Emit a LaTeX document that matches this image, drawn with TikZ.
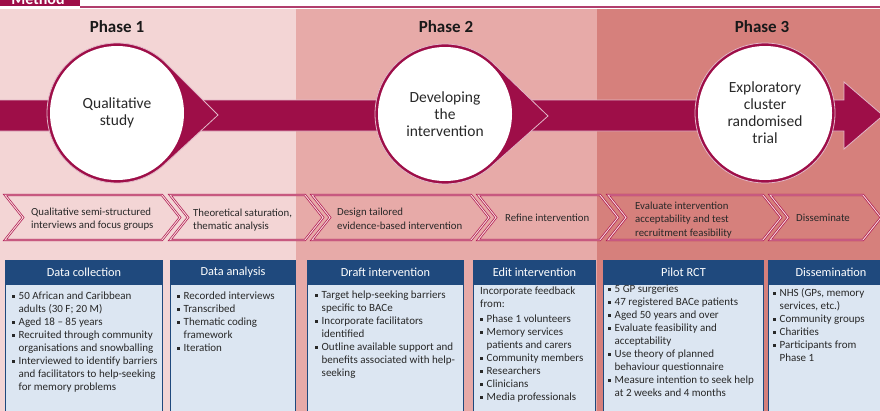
\documentclass[tikz,border=0pt]{standalone}
\usepackage{fontspec}
\setmainfont{Carlito}
\usetikzlibrary{calc}
\definecolor{mag}{RGB}{158,14,72}
\definecolor{chevc}{RGB}{176,22,82}
\definecolor{ph1}{RGB}{243,213,213}
\definecolor{ph2}{RGB}{231,170,168}
\definecolor{ph3}{RGB}{214,128,124}
\definecolor{hdr}{RGB}{31,73,125}
\definecolor{bodyc}{RGB}{220,230,242}
\definecolor{txtc}{RGB}{40,40,40}
\newcommand{\bl}{\makebox[6.5pt][l]{\rule[0.35ex]{2.8pt}{2.8pt}}}
\newcommand{\ct}{\hspace*{6.5pt}}
\newcommand{\chevshape}[2]{\draw[chev] (#1,195) -- (#2,195) -- ++(18,22.5) -- (#2,240) -- (#1,240) -- ++(18,-22.5) -- cycle;}
\tikzstyle{phase}=[font=\fontsize{17}{20}\selectfont\bfseries, text=black!90]
\tikzstyle{stage}=[circle, fill=white, minimum size=134pt, inner sep=0pt, align=center, text=txtc, font=\fontsize{15.5}{17}\selectfont]
\tikzstyle{tear}=[fill=mag, draw=white!70!mag, line width=0.8pt]
\tikzstyle{chev}=[draw=chevc, line width=0.7pt, double=ph1, double distance=0.9pt, line join=miter]
\tikzstyle{chevtxt}=[anchor=west, align=left, inner sep=0pt, text=txtc, font=\fontsize{10.8}{13.5}\selectfont]
\tikzstyle{boxhead}=[anchor=north west, fill=hdr, draw=hdr, line width=1pt, text=white, minimum height=23pt, inner sep=0pt, font=\fontsize{12.3}{14}\selectfont]
\tikzstyle{boxbody}=[anchor=north west, fill=bodyc, draw=hdr, line width=1.2pt, minimum height=140pt, inner sep=0pt]
\tikzstyle{boxtxt}=[anchor=north west, align=left, inner sep=0pt, text=txtc, font=\fontsize{11}{13}\selectfont]

\begin{document}
\begin{tikzpicture}[x=1pt, y=-1pt]
\useasboundingbox (0,0) rectangle (880,410);
\clip (0,0) rectangle (880,410);
% phase panels
\fill[ph1] (0,9) rectangle (296,415);
\fill[ph2] (296,9) rectangle (597,415);
\fill[ph3] (597,9) rectangle (880,415);
\fill[mag] (0,0) rectangle (80,5.5);
\node[anchor=base, text=white, font=\fontsize{16}{18}\selectfont\bfseries] (meth) at (38,4) {Method};
\draw[mag!80, line width=1.2pt] (80,7) -- (880,7);

\node[phase] (p1) at (117,27) {Phase 1};
\node[phase] (p2) at (446,27) {Phase 2};
\node[phase] (p3) at (762,27) {Phase 3};

% main arrow
\filldraw[tear] (-5,100) -- (844,100) -- (844,82) -- (883,115.5) -- (844,149) -- (844,131) -- (-5,131) -- cycle;

\coordinate (c1) at (117,113);
\coordinate (c2) at (445,114);
\coordinate (c3) at (765,113);
\coordinate (t1) at (218,115);
\coordinate (t2) at (548,116);
\filldraw[tear] (t1) -- ($(c1)+(47:70)$) arc[start angle=47, end angle=313, radius=70] -- cycle;
\filldraw[tear] (t2) -- ($(c2)+(47:70)$) arc[start angle=47, end angle=313, radius=70] -- cycle;
\filldraw[tear] (c3) circle[radius=70];
\node[stage] (s1) at (c1) {Qualitative\\study};
\node[stage] (s2) at (c2) {Developing\\the\\intervention};
\node[stage] (s3) at (c3) {Exploratory\\cluster\\randomised\\trial};

% chevrons
\chevshape{5}{162}
\chevshape{170}{305}
\chevshape{312}{471}
\chevshape{478}{600}
\chevshape{608}{763}
\chevshape{770}{863}
\node[chevtxt] (k1) at (31,219) {Qualitative semi-structured\\interviews and focus groups};
\node[chevtxt] (k2) at (193,220) {Theoretical saturation,\\thematic analysis};
\node[chevtxt] (k3) at (337,219) {Design tailored\\evidence-based intervention};
\node[chevtxt] (k4) at (505,217.5) {Refine intervention};
\node[chevtxt] (k5) at (635,220) {Evaluate intervention\\acceptability and test\\recruitment feasibility};
\node[chevtxt] (k6) at (796,218) {Disseminate};

% boxes
\node[boxhead, minimum width=157pt] (h1) at (5,260) {Data collection};
\node[boxhead, minimum width=125pt] (h2) at (170,260) {Data analysis};
\node[boxhead, minimum width=156pt] (h3) at (307,260) {Draft intervention};
\node[boxhead, minimum width=122pt] (h4) at (473,260) {Edit intervention};
\node[boxhead, minimum width=160pt] (h5) at (603,260) {Pilot RCT};
\node[boxhead, minimum width=125pt] (h6) at (768,260) {Dissemination};
\node[boxbody, minimum width=157pt] (b1) at (h1.south west) {};
\node[boxbody, minimum width=125pt] (b2) at (h2.south west) {};
\node[boxbody, minimum width=156pt] (b3) at (h3.south west) {};
\node[boxbody, minimum width=122pt] (b4) at (h4.south west) {};
\node[boxbody, minimum width=160pt] (b5) at (h5.south west) {};
\node[boxbody, minimum width=125pt] (b6) at (h6.south west) {};

\node[boxtxt] (x1) at (12,291.5) {\bl 50 African and Caribbean\\\ct adults (30 F; 20 M)\\\bl Aged 18 -- 85 years\\\bl Recruited through community\\\ct organisations and snowballing\\\bl Interviewed to identify barriers\\\ct and facilitators to help-seeking\\\ct for memory problems};
\node[boxtxt] (x2) at (177,291.5) {\bl Recorded interviews\\\bl Transcribed\\\bl Thematic coding\\\ct framework\\\bl Iteration};
\node[boxtxt] (x3) at (315,290.5) {\bl Target help-seeking barriers\\\ct specific to BACe\\\bl Incorporate facilitators\\\ct identified\\\bl Outline available support and\\\ct benefits associated with help-\\\ct seeking};
\node[boxtxt] (x4) at (480,286.5) {Incorporate feedback\\from:\\[2pt]\bl Phase 1 volunteers\\\bl Memory services\\\ct patients and carers\\\bl Community members\\\bl Researchers\\\bl Clinicians\\\bl Media professionals};
\node[boxtxt] (x5) at (608,285) {\bl 5 GP surgeries\\\bl 47 registered BACe patients\\\bl Aged 50 years and over\\\bl Evaluate feasibility and\\\ct acceptability\\\bl Use theory of planned\\\ct behaviour questionnaire\\\bl Measure intention to seek help\\\ct at 2 weeks and 4 months};
\node[boxtxt] (x6) at (773,288.5) {\bl NHS (GPs, memory\\\ct services, etc.)\\\bl Community groups\\\bl Charities\\\bl Participants from\\\ct Phase 1};
\end{tikzpicture}
\end{document}
